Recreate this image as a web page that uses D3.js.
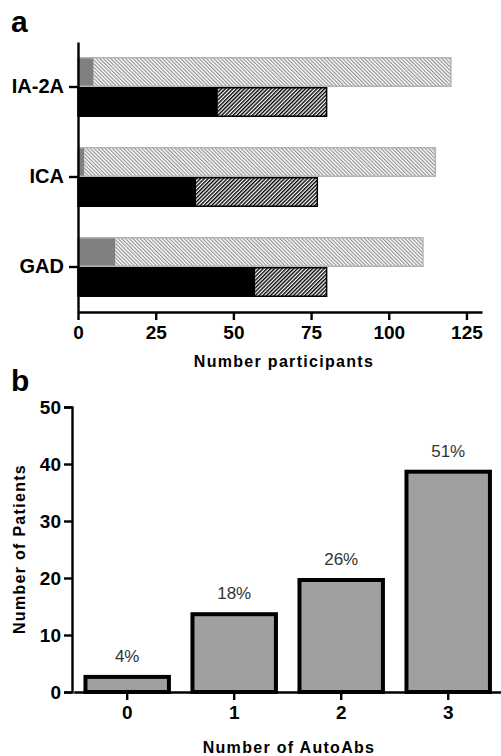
<!DOCTYPE html>
<html lang="en">
<head>
  <meta charset="UTF-8">
  <title>Autoantibodies chart</title>
  <style>
    body { margin: 0; background: #fff; }
    svg { display: block; font-family: "Liberation Sans", Arial, sans-serif; }
    .axis path, .axis line { stroke: #000; stroke-width: 2.4px; }
    .axis text { font-weight: bold; fill: #000; }
    .label { font-weight: bold; font-size: 16px; letter-spacing: 1.3px; }
    .panel { font-weight: bold; font-size: 30px; }
    .pct { font-size: 17px; fill: #333; }
  </style>
  <script src="https://d3js.org/d3.v7.min.js"></script>
</head>
<body>
<svg id="chart"></svg>
<script>
  // panel a
  var categories = ["IA-2A", "ICA", "GAD"];
  var upperSolid = [5, 2, 12];
  var upperHatched = [115, 113, 99];
  var lowerSolid = [45, 38, 57];
  var lowerHatched = [35, 39, 23];
  var xTicksA = [0, 25, 50, 75, 100, 125];

  // panel b
  var autoAbs = ["0", "1", "2", "3"];
  var patients = [3, 14, 20, 39];
  var percents = ["4%", "18%", "26%", "51%"];
  var yTicksB = [0, 10, 20, 30, 40, 50];

  var width = 501, height = 756;
  var svg = d3.select('#chart').attr('width', width).attr('height', height);

  // hatch patterns
  var defs = svg.append('defs');
  defs.append('pattern').attr('id', 'darkHatch')
    .attr('patternUnits', 'userSpaceOnUse')
    .attr('width', 2.7).attr('height', 10)
    .attr('patternTransform', 'rotate(45)')
    .append('line').attr('x1', 0.7).attr('x2', 0.7).attr('y1', 0).attr('y2', 10)
    .attr('stroke', '#000').attr('stroke-width', 1.4);
  defs.append('pattern').attr('id', 'lightHatch')
    .attr('patternUnits', 'userSpaceOnUse')
    .attr('width', 2.6).attr('height', 10)
    .attr('patternTransform', 'rotate(-45)')
    .append('line').attr('x1', 0.6).attr('x2', 0.6).attr('y1', 0).attr('y2', 10)
    .attr('stroke', '#8a8a8a').attr('stroke-width', 1.1);

  // ---------------- panel a ----------------
  var xA = d3.scaleLinear().domain([0, 130]).range([78, 482]);
  var yA = d3.scaleBand().domain(categories).range([42, 312])
    .paddingInner(1 / 3).paddingOuter(1 / 6);
  var sub = d3.scaleBand().domain(['upper', 'lower']).range([0, yA.bandwidth()]);

  var rows = categories.map(function(c, i) {
    return { cat: c, upperSolid: upperSolid[i], upperHatched: upperHatched[i],
             lowerSolid: lowerSolid[i], lowerHatched: lowerHatched[i] };
  });

  var bars = [
    { row: 'upper', keys: ['upperSolid', 'upperHatched'],
      fills: ['#808080', 'url(#lightHatch)'], stroke: '#b4b4b4' },
    { row: 'lower', keys: ['lowerSolid', 'lowerHatched'],
      fills: ['#000', 'url(#darkHatch)'], stroke: '#000' }
  ];

  var gA = svg.append('g');
  bars.forEach(function(b) {
    var stacked = d3.stack().keys(b.keys)(rows);
    stacked.forEach(function(layer, k) {
      gA.append('g').selectAll('rect').data(layer).enter().append('rect')
        .attr('x', function(d) { return xA(d[0]); })
        .attr('width', function(d) { return xA(d[1]) - xA(d[0]); })
        .attr('y', function(d) { return yA(d.data.cat) + sub(b.row); })
        .attr('height', sub.bandwidth())
        .attr('fill', b.fills[k])
        .attr('stroke', 'none');
    });
    // outline of the whole bar
    gA.append('g').selectAll('rect').data(rows).enter().append('rect')
      .attr('x', xA(0))
      .attr('width', function(d) { return xA(d[b.keys[0]] + d[b.keys[1]]) - xA(0); })
      .attr('y', function(d) { return yA(d.cat) + sub(b.row) + 0.75; })
      .attr('height', sub.bandwidth() - 1.5)
      .attr('fill', 'none')
      .attr('stroke', b.stroke)
      .attr('stroke-width', 1.5);
  });

  svg.append('g').attr('class', 'axis')
    .attr('transform', 'translate(0,312)')
    .call(d3.axisBottom(xA).tickValues(xTicksA).tickSize(8).tickSizeOuter(0).tickPadding(6))
    .selectAll('text').style('font-size', '19px');

  svg.append('g').attr('class', 'axis')
    .attr('transform', 'translate(78,0)')
    .call(d3.axisLeft(yA).tickSize(9).tickSizeOuter(0).tickPadding(5))
    .selectAll('text').style('font-size', '20px');

  svg.append('text').attr('class', 'label')
    .attr('x', 284).attr('y', 367).attr('text-anchor', 'middle')
    .text('Number participants');

  svg.append('text').attr('class', 'panel').attr('x', 11).attr('y', 31.5).text('a');

  // ---------------- panel b ----------------
  var xB = d3.scaleBand().domain(autoAbs).range([73.7, 501.7])
    .paddingInner(0.22).paddingOuter(0.11);
  var yB = d3.scaleLinear().domain([0, 50]).range([692, 407]);

  var gB = svg.append('g');
  gB.selectAll('rect').data(patients).enter().append('rect')
    .attr('x', function(d, i) { return xB(autoAbs[i]); })
    .attr('width', xB.bandwidth())
    .attr('y', function(d) { return yB(d) + 2; })
    .attr('height', function(d) { return yB(0) - yB(d) - 2; })
    .attr('fill', '#a0a0a0')
    .attr('stroke', '#000')
    .attr('stroke-width', 4);

  gB.selectAll('text').data(patients).enter().append('text')
    .attr('class', 'pct')
    .attr('x', function(d, i) { return xB(autoAbs[i]) + xB.bandwidth() / 2; })
    .attr('y', function(d) { return yB(d) - 13; })
    .attr('text-anchor', 'middle')
    .text(function(d, i) { return percents[i]; });

  svg.append('g').attr('class', 'axis')
    .attr('transform', 'translate(0,692)')
    .call(d3.axisBottom(xB).tickSize(8).tickSizeOuter(0).tickPadding(6))
    .selectAll('text').style('font-size', '19px');

  svg.append('g').attr('class', 'axis')
    .attr('transform', 'translate(72,0)')
    .call(d3.axisLeft(yB).tickValues(yTicksB).tickSize(8).tickSizeOuter(8).tickPadding(3))
    .selectAll('text').style('font-size', '19px');

  svg.append('text').attr('class', 'label')
    .attr('x', 289).attr('y', 752.5).attr('text-anchor', 'middle')
    .text('Number of AutoAbs');

  svg.append('text').attr('class', 'label')
    .attr('transform', 'translate(25,549) rotate(-90)')
    .attr('text-anchor', 'middle')
    .text('Number of Patients');

  svg.append('text').attr('class', 'panel').attr('x', 11).attr('y', 390.5).text('b');
</script>
</body>
</html>
